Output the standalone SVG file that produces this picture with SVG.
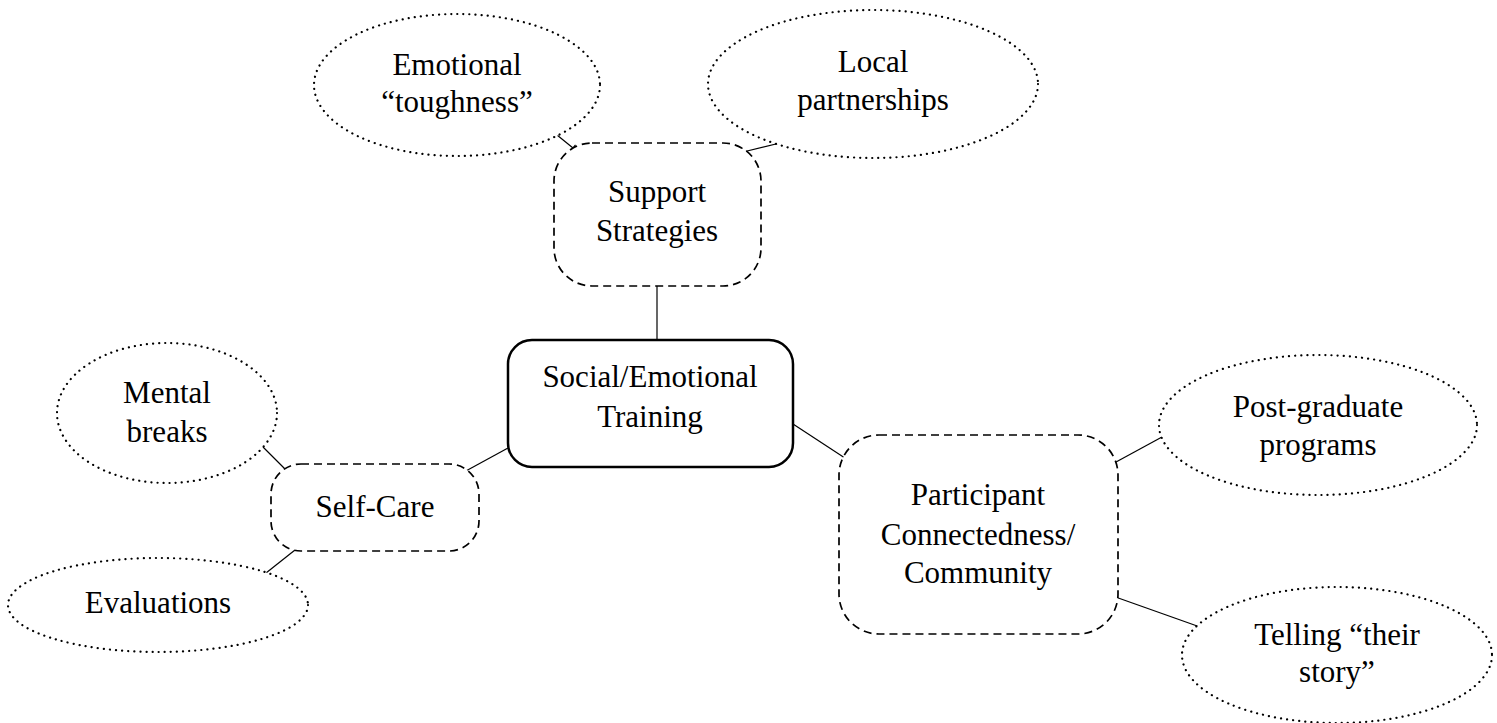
<svg xmlns="http://www.w3.org/2000/svg" width="1497" height="723" viewBox="0 0 1497 723">
<style>
text{font-family:"Liberation Serif","Times New Roman",serif;font-size:31px;fill:#000;text-anchor:middle}
.dot{fill:#fff;stroke:#000;stroke-width:2.2;stroke-dasharray:0.1 6;stroke-linecap:round}
.dash{fill:#fff;stroke:#000;stroke-width:1.7;stroke-dasharray:8 5}
.main{fill:#fff;stroke:#000;stroke-width:2.5}
.conn{fill:none;stroke:#000;stroke-width:1.2}
</style>
<rect width="1497" height="723" fill="#fff"/>
<g id="connectors">
<path class="conn" d="M557,135 L573,148 M570.5,151.1 L575.5,144.9"/>
<path class="conn" d="M780,143 L743,152 M742,148 L744,156"/>
<path class="conn" d="M657,286 L657,341"/>
<path class="conn" d="M508,448 L464,472"/>
<path class="conn" d="M262,446 L287,471 M289.8,468.2 L284.2,473.8"/>
<path class="conn" d="M295,550 L266,573"/>
<path class="conn" d="M793,424 L851,462"/>
<path class="conn" d="M1105,468 L1162,437"/>
<path class="conn" d="M1107,594 L1200,627"/>
</g>
<g id="emotional-toughness" font-family="Liberation Serif, serif">
<ellipse class="dot" cx="457" cy="85" rx="143" ry="71"/>
<text x="457" y="75">Emotional</text>
<text x="457" y="112">“toughness”</text>
</g>
<g id="local-partnerships">
<ellipse class="dot" cx="873" cy="84" rx="165" ry="74"/>
<text x="873" y="72">Local</text>
<text x="873" y="110">partnerships</text>
</g>
<g id="support-strategies">
<rect class="dash" x="554" y="143" width="207" height="143" rx="38" ry="38"/>
<text x="657" y="202">Support</text>
<text x="657" y="241">Strategies</text>
</g>
<g id="social-emotional-training">
<rect class="main" x="508" y="340" width="285" height="127" rx="24" ry="24"/>
<text x="650" y="387">Social/Emotional</text>
<text x="650" y="427">Training</text>
</g>
<g id="mental-breaks">
<ellipse class="dot" cx="167" cy="413" rx="110" ry="70"/>
<text x="167" y="403">Mental</text>
<text x="167" y="442">breaks</text>
</g>
<g id="self-care">
<rect class="dash" x="271" y="464" width="208" height="87" rx="30" ry="30"/>
<text x="375" y="517">Self-Care</text>
</g>
<g id="evaluations">
<ellipse class="dot" cx="158" cy="605" rx="150" ry="47"/>
<text x="158" y="613">Evaluations</text>
</g>
<g id="participant-connectedness">
<rect class="dash" x="839" y="435" width="279" height="199" rx="40" ry="40"/>
<text x="978" y="505">Participant</text>
<text x="978" y="545">Connectedness/</text>
<text x="978" y="583">Community</text>
</g>
<g id="post-graduate-programs">
<ellipse class="dot" cx="1318" cy="425" rx="159" ry="70"/>
<text x="1318" y="417">Post-graduate</text>
<text x="1318" y="455">programs</text>
</g>
<g id="telling-their-story">
<ellipse class="dot" cx="1337" cy="655" rx="155" ry="68"/>
<text x="1337" y="645">Telling “their</text>
<text x="1337" y="682">story”</text>
</g>
</svg>
